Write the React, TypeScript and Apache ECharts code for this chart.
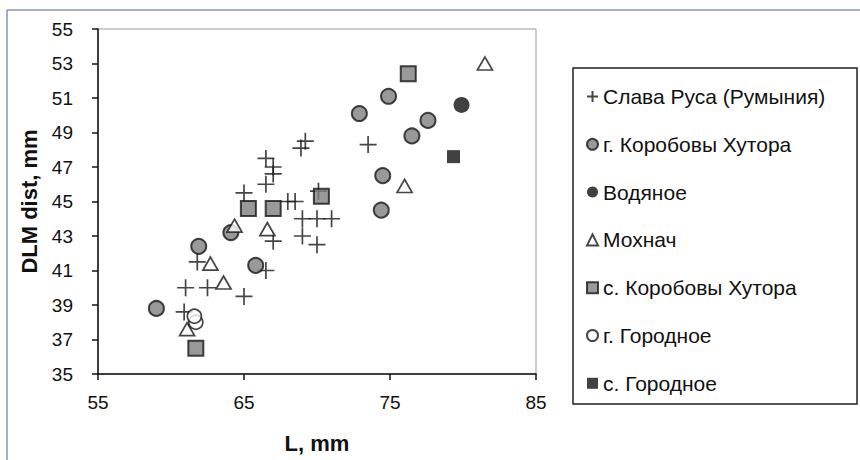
import React, { useEffect, useRef } from "react";
import * as echarts from "echarts";

// Axis ticks
const X_TICKS = [55, 65, 75, 85];
const Y_TICKS = [35, 37, 39, 41, 43, 45, 47, 49, 51, 53, 55];

// Series names
const SERIES_NAMES = [
  "Слава Руса (Румыния)",
  "г. Коробовы Хутора",
  "Водяное",
  "Мохнач",
  "с. Коробовы Хутора",
  "г. Городное",
  "с. Городное",
];

// [L, DLM dist]
const slavaRusa: [number, number][] = [
  [68.9, 48.1], [69.2, 48.5], [66.5, 47.5], [67.0, 47.0], [67.0, 46.6],
  [66.5, 46.0], [65.0, 45.5], [68.0, 45.0], [68.5, 45.0], [70.1, 45.6],
  [69.0, 44.0], [70.0, 44.0], [71.0, 44.0], [69.0, 43.0], [70.0, 42.5],
  [67.0, 42.7], [73.5, 48.3], [61.8, 41.5], [61.0, 40.0], [62.5, 40.0],
  [65.0, 39.5], [66.5, 41.0], [60.9, 38.6],
];
const gKorobovy: [number, number][] = [
  [59.0, 38.8], [61.9, 42.4], [64.1, 43.2], [65.8, 41.3], [72.9, 50.1],
  [74.9, 51.1], [76.5, 48.8], [77.6, 49.7], [74.5, 46.5], [74.4, 44.5],
];
const vodyanoe: [number, number][] = [[79.9, 50.6]];
const mokhnach: [number, number][] = [
  [81.5, 53.0], [76.0, 45.9], [61.1, 37.6], [62.7, 41.4], [63.6, 40.3],
  [64.35, 43.6], [66.6, 43.4],
];
const sKorobovy: [number, number][] = [
  [76.25, 52.4], [65.3, 44.6], [67.0, 44.6], [70.3, 45.3], [61.7, 36.5],
];
const gGorodnoe: [number, number][] = [[61.7, 38.0], [61.6, 38.35]];
const sGorodnoe: [number, number][] = [[79.35, 47.6]];

const FONT = "'Liberation Sans', Arial, sans-serif";

export default function App() {
  const ref = useRef<HTMLDivElement>(null);

  useEffect(() => {
    if (!ref.current) return;
    const chart = echarts.init(ref.current, undefined, { renderer: "svg" });
    const xBase = X_TICKS[0];
    const yBase = Y_TICKS[0];
    const shift = (arr: [number, number][]) => arr.map(([x, y]) => [x - xBase, y - yBase]);

    const gray = "#808080";
    const dark = "#161616";

    const series: any[] = [
      {
        name: SERIES_NAMES[0],
        type: "scatter",
        data: shift(slavaRusa),
        symbol: "path://M0 8H16M8 0V16",
        symbolSize: 17,
        itemStyle: { color: "transparent", borderColor: dark, borderWidth: 1.7 },
      },
      {
        name: SERIES_NAMES[1],
        type: "scatter",
        data: shift(gKorobovy),
        symbol: "circle",
        symbolSize: 15,
        itemStyle: { color: gray, borderColor: dark, borderWidth: 2 },
      },
      {
        name: SERIES_NAMES[2],
        type: "scatter",
        data: shift(vodyanoe),
        symbol: "circle",
        symbolSize: 16,
        itemStyle: { color: "#111", borderColor: "#111", borderWidth: 0 },
      },
      {
        name: SERIES_NAMES[3],
        type: "scatter",
        data: shift(mokhnach),
        symbol: "triangle",
        symbolSize: [15, 13],
        itemStyle: { color: "#fff", borderColor: dark, borderWidth: 1.7 },
      },
      {
        name: SERIES_NAMES[4],
        type: "scatter",
        data: shift(sKorobovy),
        symbol: "rect",
        symbolSize: 15,
        itemStyle: { color: gray, borderColor: dark, borderWidth: 2 },
      },
      {
        name: SERIES_NAMES[5],
        type: "scatter",
        data: shift(gGorodnoe),
        symbol: "circle",
        symbolSize: 14,
        itemStyle: { color: "#fff", borderColor: dark, borderWidth: 1.7 },
      },
      {
        name: SERIES_NAMES[6],
        type: "scatter",
        data: shift(sGorodnoe),
        symbol: "rect",
        symbolSize: 13,
        itemStyle: { color: "#111", borderColor: "#111", borderWidth: 0 },
      },
    ];

    chart.setOption({
      animation: false,
      backgroundColor: "#fff",
      textStyle: { fontFamily: FONT },
      grid: {
        left: 98,
        right: 324,
        top: 29,
        bottom: 86,
        containLabel: false,
        outerBoundsMode: "none",
        show: true,
        borderColor: "#9a9a9a",
        borderWidth: 1,
        backgroundColor: "transparent",
      },
      xAxis: {
        type: "value",
        min: 0,
        max: X_TICKS[X_TICKS.length - 1] - xBase,
        interval: X_TICKS[1] - X_TICKS[0],
        name: "L, mm",
        nameLocation: "middle",
        nameGap: 58,
        nameTextStyle: { fontSize: 22, fontWeight: "bold", color: "#111", fontFamily: FONT },
        axisLine: { lineStyle: { color: "#111", width: 1.5 } },
        axisTick: { show: true, length: 6, lineStyle: { color: "#111", width: 1.5 } },
        axisLabel: {
          fontSize: 19,
          color: "#111",
          margin: 19,
          fontFamily: FONT,
          formatter: (v: number) => String(v + xBase),
        },
        splitLine: { show: false },
      },
      yAxis: {
        type: "value",
        min: 0,
        max: Y_TICKS[Y_TICKS.length - 1] - yBase,
        interval: Y_TICKS[1] - Y_TICKS[0],
        name: "DLM dist, mm",
        nameLocation: "middle",
        nameGap: 57,
        nameRotate: 90,
        nameTextStyle: { fontSize: 22, fontWeight: "bold", color: "#111", fontFamily: FONT },
        axisLine: { show: true, lineStyle: { color: "#111", width: 1.5 } },
        axisTick: { show: true, length: 6, lineStyle: { color: "#111", width: 1.5 } },
        axisLabel: {
          fontSize: 19,
          color: "#111",
          margin: 25,
          fontFamily: FONT,
          formatter: (v: number) => String(v + yBase),
        },
        splitLine: { show: false },
      },
      legend: {
        orient: "vertical",
        left: 586,
        top: 86,
        padding: 0,
        itemWidth: 11,
        itemHeight: 11,
        itemGap: 26.8,
        data: SERIES_NAMES,
        textStyle: { fontSize: 21, lineHeight: 21, color: "#111", fontFamily: FONT },
      },
      graphic: [
        {
          type: "rect",
          silent: true,
          shape: { x: 7, y: 10, width: 900, height: 500 },
          style: { fill: "none", stroke: "#4a5aa0", lineWidth: 1 },
          z: -1,
        },
        {
          type: "rect",
          silent: true,
          shape: { x: 573, y: 68, width: 284, height: 336 },
          style: { fill: "none", stroke: "#222", lineWidth: 1.5 },
        },
      ],
      series,
    });

    return () => chart.dispose();
  }, []);

  return (
    <div
      ref={ref}
      style={{ position: "fixed", left: 0, top: 0, width: 860, height: 460 }}
    />
  );
}
